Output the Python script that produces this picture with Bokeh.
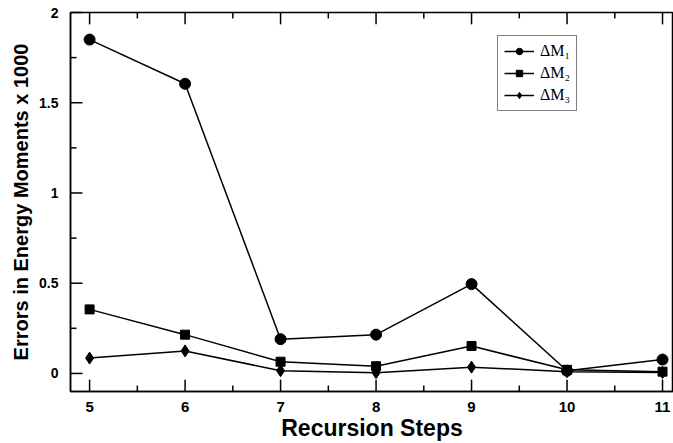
from bokeh.plotting import figure
from bokeh.models import Range1d, Legend, LegendItem, FixedTicker
from bokeh.embed import file_html
from bokeh.resources import INLINE

steps = [5, 6, 7, 8, 9, 10, 11]
dm1 = [1.85, 1.605, 0.19, 0.215, 0.495, 0.015, 0.077]
dm2 = [0.355, 0.215, 0.065, 0.04, 0.152, 0.02, 0.01]
dm3 = [0.085, 0.125, 0.015, 0.004, 0.035, 0.01, 0.005]
labels = ["ΔM₁", "ΔM₂", "ΔM₃"]
x_minor = [5.5 + i for i in range(6)]
y_major = [0, 0.5, 1, 1.5, 2]
y_minor = [0.25, 0.75, 1.25, 1.75]

X0, X1, Y0, Y1 = 4.8, 11.115, -0.1, 2.0
W, H, BL, BT, BB = 673, 443, 70, 12, 48

p = figure(width=W, height=H, output_backend="svg", toolbar_location=None,
           x_range=Range1d(X0, X1), y_range=Range1d(Y0, Y1),
           min_border_left=BL, min_border_top=BT, min_border_bottom=BB, min_border_right=0)
p.xgrid.visible = False
p.ygrid.visible = False
p.outline_line_color = "black"
p.outline_line_width = 1.5
p.background_fill_color = "white"
p.border_fill_color = "white"

# inward tick lengths (12px major, 6px minor) expressed in data units
px_x = (X1 - X0) / (W - BL)
px_y = (Y1 - Y0) / (H - BT - BB)
tick = dict(line_color="black", line_width=1.5, level="overlay")

def xticks(xs, n):
    ln = n * px_y
    p.segment(x0=xs, y0=[Y0] * len(xs), x1=xs, y1=[Y0 + ln] * len(xs), **tick)
    p.segment(x0=xs, y0=[Y1] * len(xs), x1=xs, y1=[Y1 - ln] * len(xs), **tick)

def yticks(ys, n):
    ln = n * px_x
    p.segment(x0=[X0] * len(ys), y0=ys, x1=[X0 + ln] * len(ys), y1=ys, **tick)

xticks(steps, 12)
xticks(x_minor, 6)
yticks(y_major, 12)
yticks(y_minor, 6)

r1l = p.line(steps, dm1, line_color="black", line_width=1.5)
r1m = p.scatter(steps, dm1, marker="circle", size=11, color="black")
r2l = p.line(steps, dm2, line_color="black", line_width=1.5)
r2m = p.scatter(steps, dm2, marker="square", size=9, color="black")
r3l = p.line(steps, dm3, line_color="black", line_width=1.5)
r3m = p.scatter(steps, dm3, marker="diamond", size=12, color="black")

def style_axis(ax):
    ax.axis_line_color = "black"
    ax.axis_line_width = 1.5
    ax.major_tick_line_color = None
    ax.minor_tick_line_color = None
    ax.major_label_text_font = "Liberation Sans"
    ax.major_label_text_font_style = "bold"
    ax.major_label_text_font_size = "14px"
    ax.major_label_text_color = "black"
    ax.axis_label_text_font = "Liberation Sans"
    ax.axis_label_text_font_style = "bold"
    ax.axis_label_text_color = "black"

p.xaxis.ticker = FixedTicker(ticks=steps)
p.yaxis.ticker = FixedTicker(ticks=y_major)
p.xaxis.axis_label = "Recursion Steps"
p.yaxis.axis_label = "Errors in Energy Moments x 1000"
style_axis(p.xaxis[0])
style_axis(p.yaxis[0])
p.xaxis.major_label_text_font_size = "15px"
p.xaxis.axis_label_text_font_size = "23px"
p.yaxis.axis_label_text_font_size = "20px"
p.xaxis.major_label_standoff = 4
p.yaxis.major_label_standoff = 6
p.xaxis.axis_label_standoff = 0
p.yaxis.axis_label_standoff = 4

legend = Legend(items=[LegendItem(label=labels[0], renderers=[r1l, r1m]),
                       LegendItem(label=labels[1], renderers=[r2l, r2m]),
                       LegendItem(label=labels[2], renderers=[r3l, r3m])],
                location=(427, 280))
legend.border_line_color = "black"
legend.border_line_width = 1.5
legend.background_fill_alpha = 1
legend.label_text_font = "Liberation Serif"
legend.label_text_font_size = "16px"
legend.label_text_color = "black"
legend.glyph_width = 30
legend.glyph_height = 16
legend.label_height = 16
legend.spacing = 4
legend.padding = 6
legend.margin = 0
legend.label_standoff = 6
p.add_layout(legend, "center")

open("out.html", "w").write(file_html(p, INLINE))
